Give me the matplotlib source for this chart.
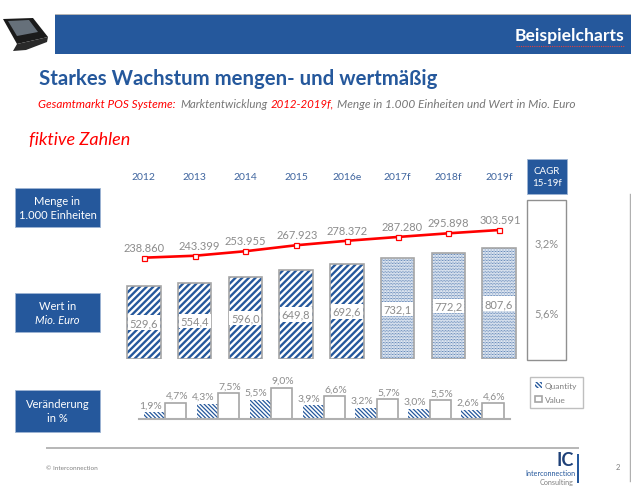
import matplotlib
matplotlib.use('Agg')
import matplotlib.pyplot as plt
from matplotlib.patches import Rectangle, Polygon

W, H = 631, 489

years = ['2012', '2013', '2014', '2015', '2016e', '2017f', '2018f', '2019f']
menge = [238860, 243399, 253955, 267923, 278372, 287280, 295898, 303591]
menge_labels = ['238.860', '243.399', '253.955', '267.923', '278.372', '287.280', '295.898', '303.591']
wert = [529.6, 554.4, 596.0, 649.8, 692.6, 732.1, 772.2, 807.6]
wert_labels = ['529,6', '554,4', '596,0', '649,8', '692,6', '732,1', '772,2', '807,6']
quantity = [1.9, 4.3, 5.5, 3.9, 3.2, 3.0, 2.6]
value = [4.7, 7.5, 9.0, 6.6, 5.7, 5.5, 4.6]
cagr_labels = ['3,2%', '5,6%']

NAVY = '#25589c'
GREY = '#8c8c8c'
EDGE = '#a6a6a6'
RED = '#ff0000'
plt.rcParams['font.family'] = ['Lato', 'DejaVu Sans']
plt.rcParams['hatch.linewidth'] = 1.0


def px_axes(fig, left, top, right, bottom):
    # axes placed by pixel box of the reference
    ax = fig.add_axes([left / W, 1 - bottom / H, (right - left) / W, (bottom - top) / H])
    ax.axis('off')
    ax.patch.set_visible(False)
    return ax


fig = plt.figure(figsize=(W / 100, H / 100), dpi=100, facecolor='white')

# page furniture, in pixel coordinates
deco = px_axes(fig, 0, 0, W, H)
deco.set_xlim(0, W)
deco.set_ylim(H, 0)


def box(x0, y0, x1, y1, lines, size=8.0, styles=None):
    deco.add_patch(Rectangle((x0, y0), x1 - x0, y1 - y0, fc=NAVY, ec='#9db4d3', lw=0.6))
    step = size * 1.75
    y = (y0 + y1) / 2 - step * (len(lines) - 1) / 2
    for i, line in enumerate(lines):
        st = styles[i] if styles else 'normal'
        deco.text((x0 + x1) / 2, y, line, color='white', fontsize=size, style=st, ha='center', va='center')
        y += step


deco.add_patch(Rectangle((55, 15), W - 55, 1.5, fc='#b5b5b5', ec='none'))
deco.add_patch(Rectangle((55, 16), W - 55, 39, fc=NAVY, ec='none'))
deco.text(624, 36, 'Beispielcharts', color='white', fontsize=12.6, fontweight='bold', ha='right', va='center')
deco.plot([516, 624], [46.5, 46.5], color='#e04040', lw=0.8, ls=(0, (1, 1)))

# POS terminal icon
deco.add_patch(Polygon([[3, 20], [33, 19], [48, 38], [17, 45]], fc='#1b1b1b', ec='none'))
deco.add_patch(Polygon([[8, 22], [29, 21], [38, 33], [17, 37]], fc='#66707a', ec='none'))
deco.add_patch(Polygon([[17, 45], [48, 38], [47, 43], [26, 51], [13, 52]], fc='#2a2a2a', ec='none'))

deco.text(39, 79, 'Starkes Wachstum mengen- und wertmäßig', color=NAVY, fontsize=14.7, fontweight='bold', va='center')
sub_y = 104
deco.text(38, sub_y, 'Gesamtmarkt POS Systeme:', color=RED, fontsize=8.5, style='italic', va='center')
deco.text(180, sub_y, 'Marktentwicklung', color='#777777', fontsize=8.3, style='italic', va='center')
deco.text(271, sub_y, '2012-2019f,', color=RED, fontsize=8.3, style='italic', va='center')
deco.text(337, sub_y, 'Menge in 1.000 Einheiten und Wert in Mio. Euro', color='#777777', fontsize=8.6, style='italic', va='center')
deco.text(29, 140, 'fiktive Zahlen', color=RED, fontsize=13, style='italic', va='center')

box(15, 189, 100, 228, ['Menge in', '1.000 Einheiten'])
box(15, 294, 100, 333, ['Wert in', 'Mio. Euro'], styles=['normal', 'italic'])
box(15, 391, 100, 433, ['Veränderung', 'in %'])
box(527, 160, 567, 195, ['CAGR', '15-19f'], size=7.0)

# CAGR column
deco.add_patch(Rectangle((527, 201), 39, 159.5, fc='white', ec='#909090', lw=1.0))
deco.text(547, 244, cagr_labels[0], color=GREY, fontsize=8, ha='center', va='center')
deco.text(547, 314, cagr_labels[1], color=GREY, fontsize=8, ha='center', va='center')

# footer
deco.add_patch(Rectangle((46, 448), 533, 2, fc='#b8b8b8', ec='none'))
deco.text(46, 469, '© Interconnection', color='#808080', fontsize=4.6, va='center')
deco.text(565, 460, 'IC', color='#1f4178', fontsize=13, fontweight='bold', ha='center', va='center')
deco.text(575, 474, 'Interconnection', color=NAVY, fontsize=5.2, ha='right', va='center')
deco.text(573, 482, 'Consulting', color='#808080', fontsize=5.2, ha='right', va='center')
deco.add_patch(Rectangle((577, 455), 2, 29, fc=NAVY, ec='none'))
deco.text(618, 468, '2', color='#808080', fontsize=5.5, ha='center', va='center')
deco.plot([630.3, 630.3], [195, 482], color='#b0b0b0', lw=1.0)

# main bars
ax = px_axes(fig, 118.5, 222.6, 524.5, 360)
ax.set_xlim(-0.5, len(years) - 0.5)
ax.set_ylim(0, 1000)
for i, v in enumerate(wert):
    forecast = i >= 5
    b = ax.bar(i, v, width=0.66, color='white', edgecolor=NAVY, lw=0,
               hatch='...........' if forecast else '/////')[0]
    b.set_hatch_linewidth(0.5 if forecast else 1.7)
    ax.bar(i, v, width=0.66, color='none', edgecolor=EDGE, lw=1.2)
    ax.text(i, v / 2, wert_labels[i], color=GREY, fontsize=8, ha='center', va='center',
            bbox=dict(fc='white', ec='none', pad=1.2))
    ax.annotate(years[i], (i, 0), xycoords=('data', 'axes fraction'), xytext=(0, 182 / 100 * 72 / 1),
                textcoords='offset points', color='#3f659f', fontsize=7.5, ha='center', va='center',
                annotation_clip=False)

# quantity line
ax2 = px_axes(fig, 118.5, 224, 524.5, 275.3)
ax2.set_xlim(-0.5, len(years) - 0.5)
ax2.set_ylim(200000, 320000)
ax2.plot(range(len(menge)), menge, color=RED, lw=1.9, marker='s', ms=3.6, mfc='white', mec=RED, mew=0.9, clip_on=False)
label_dx = [0, 3, 0, 1, 0, 3, 0, 1]
for i, v in enumerate(menge):
    ax2.annotate(menge_labels[i], (i, v), xytext=(label_dx[i], 7.5), textcoords='offset points',
                 color=GREY, fontsize=8, ha='center', va='center', annotation_clip=False)

# change bars
ax3 = px_axes(fig, 139, 385, 510, 420)
ax3.set_xlim(-0.49, 6.52)
ax3.set_ylim(0, 10)
q_bars = None
v_bars = None
for i in range(len(quantity)):
    q_bars = ax3.bar(i - 0.2, quantity[i], width=0.4, color='white', edgecolor=NAVY, lw=0, hatch='\\' * 8)
    q_bars[0].set_hatch_linewidth(0.9)
    v_bars = ax3.bar(i + 0.2, value[i], width=0.4, color='white', edgecolor=EDGE, lw=1.2)
    ax3.annotate(f'{quantity[i]:.1f}%'.replace('.', ','), (i - 0.2, quantity[i]), xytext=(-3, 5.5),
                 textcoords='offset points', color=GREY, fontsize=7.5, ha='center', va='center', annotation_clip=False)
    ax3.annotate(f'{value[i]:.1f}%'.replace('.', ','), (i + 0.2, value[i]), xytext=(1, 5),
                 textcoords='offset points', color=GREY, fontsize=7.5, ha='center', va='center', annotation_clip=False)
ax3.axhline(0, color='#b0b0b0', lw=1.5, clip_on=False)

leg = ax3.legend([q_bars[0], v_bars[0]], ['Quantity', 'Value'], loc='upper left',
                 bbox_to_anchor=(530 / W, 1 - 378 / H), bbox_transform=fig.transFigure,
                 fontsize=6, frameon=True, fancybox=False, edgecolor='#b0b0b0', labelcolor='#808080',
                 handlelength=0.8, handleheight=0.8, handletextpad=0.4, borderpad=0.6, labelspacing=0.8,
                 borderaxespad=0)

fig.savefig('out.png', dpi=100)
